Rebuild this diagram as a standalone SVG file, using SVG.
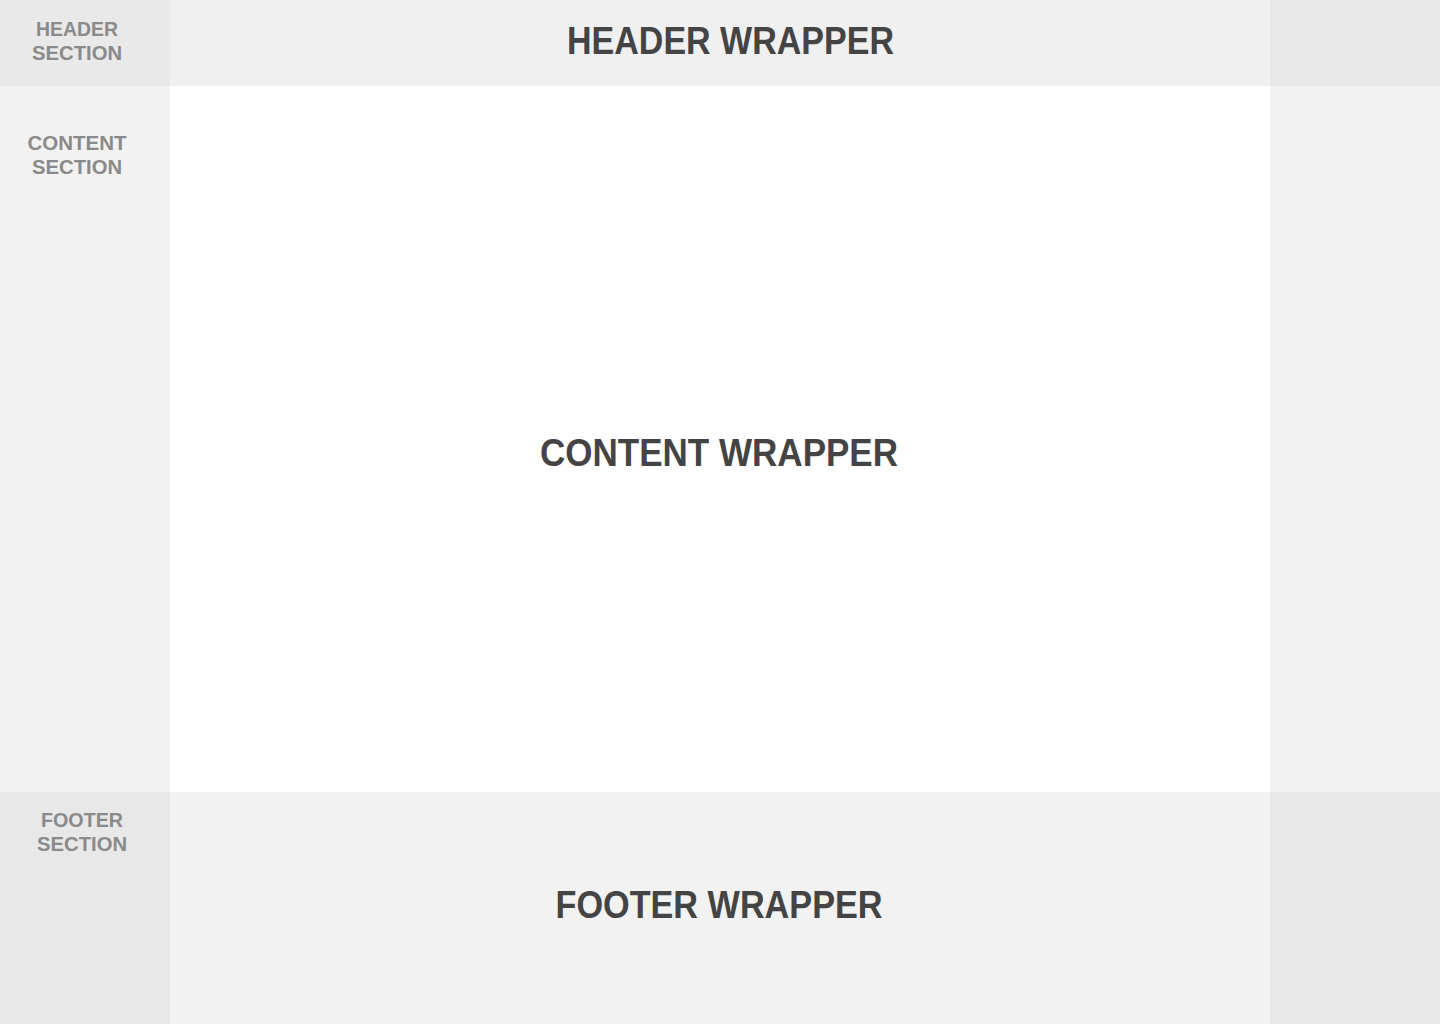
<svg xmlns="http://www.w3.org/2000/svg" width="1440" height="1024" viewBox="0 0 1440 1024">
<style>
.big{font-family:"Liberation Sans",Arial,sans-serif;font-weight:700;font-size:39px;fill:#444444}
.lab{font-family:"Liberation Sans",Arial,sans-serif;font-weight:700;font-size:21px;fill:#8a8a8a}
</style>
<rect x="0" y="0" width="1440" height="1024" fill="#ffffff"/>
<g id="header">
<rect x="0" y="0" width="170" height="86" fill="#e9e9e9"/>
<rect x="170" y="0" width="1100" height="86" fill="#f0f0f0"/>
<rect x="1270" y="0" width="170" height="86" fill="#e8e8e8"/>
<text class="lab" text-anchor="middle"><tspan x="77" y="36" textLength="82" lengthAdjust="spacingAndGlyphs">HEADER</tspan><tspan x="77" y="60" textLength="90" lengthAdjust="spacingAndGlyphs">SECTION</tspan></text>
<text class="big" x="730.5" y="54" text-anchor="middle" textLength="327" lengthAdjust="spacingAndGlyphs">HEADER WRAPPER</text>
</g>
<g id="content">
<rect x="0" y="86" width="170" height="706" fill="#f2f2f2"/>
<rect x="170" y="86" width="1100" height="706" fill="#ffffff"/>
<rect x="1270" y="86" width="170" height="706" fill="#f2f2f2"/>
<text class="lab" text-anchor="middle"><tspan x="77" y="150" textLength="99" lengthAdjust="spacingAndGlyphs">CONTENT</tspan><tspan x="77" y="174" textLength="90" lengthAdjust="spacingAndGlyphs">SECTION</tspan></text>
<text class="big" x="719" y="466" text-anchor="middle" textLength="358" lengthAdjust="spacingAndGlyphs">CONTENT WRAPPER</text>
</g>
<g id="footer">
<rect x="0" y="792" width="170" height="232" fill="#e8e8e8"/>
<rect x="170" y="792" width="1100" height="232" fill="#f2f2f2"/>
<rect x="1270" y="792" width="170" height="232" fill="#e8e8e8"/>
<text class="lab" text-anchor="middle"><tspan x="82" y="827" textLength="82" lengthAdjust="spacingAndGlyphs">FOOTER</tspan><tspan x="82" y="851" textLength="90" lengthAdjust="spacingAndGlyphs">SECTION</tspan></text>
<text class="big" x="719" y="918" text-anchor="middle" textLength="327" lengthAdjust="spacingAndGlyphs">FOOTER WRAPPER</text>
</g>
<g id="connectors"></g>
</svg>
